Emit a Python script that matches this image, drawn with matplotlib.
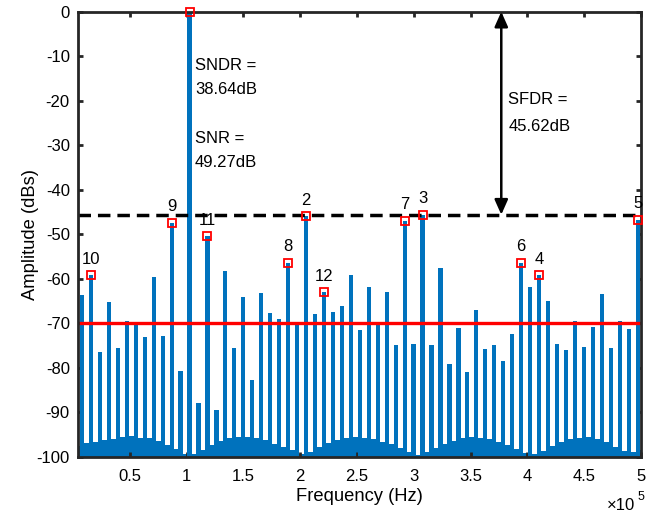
import matplotlib
matplotlib.use("Agg")
import matplotlib.pyplot as plt
import numpy as np

plt.rcParams["font.family"] = ["Liberation Sans", "DejaVu Sans"]
plt.rcParams["axes.unicode_minus"] = False

# FFT bin spacing (Hz) and bins shown in the spectrum
DF = 7890.0
bins = np.arange(1, 64)

# bin amplitudes (dBFS), bins 1..63
amp_db = [
    -63.7, -59.2, -76.5, -65.3, -75.6, -69.4, -70.4, -73.0, -59.7, -72.9,
    -47.4, -80.7, 0.0, -88.0, -50.4, -89.5, -58.2, -75.5, -64.0, -82.8,
    -63.3, -67.6, -69.1, -56.4, -70.4, -46.0, -68.0, -63.1, -67.4, -66.1,
    -59.2, -71.5, -61.9, -70.5, -63.1, -74.9, -47.0, -74.7, -45.62, -74.9,
    -57.5, -79.2, -71.1, -81.0, -67.0, -75.9, -74.9, -78.5, -72.5, -56.4,
    -61.8, -59.2, -64.9, -74.7, -76.0, -69.6, -75.3, -70.8, -63.4, -75.6,
    -69.6, -71.3, -46.7,
]

# noise floor in the half-bins between the tones
floor_db = [
    -97.5, -97.0, -96.6, -96.3, -96.0, -95.6, -95.4, -95.7, -95.9, -96.5,
    -97.4, -98.2, -99.3, -99.5, -98.6, -97.3, -96.4, -95.8, -95.5, -95.6,
    -95.9, -96.3, -97.1, -97.9, -98.6, -99.4, -98.9, -97.9, -96.9, -96.2,
    -95.8, -95.5, -95.7, -96.0, -96.6, -97.2, -98.1, -98.9, -99.6, -99.0,
    -98.0, -97.1, -96.5, -95.9, -95.6, -95.8, -96.1, -96.7, -97.4, -98.3,
    -99.1, -99.4, -98.7, -97.6, -96.7, -96.1, -95.7, -95.6, -96.0, -96.8,
    -97.8, -98.7, -99.0, -98.4,
]

# fundamental + harmonics: label and (folded) bin index
harm_labels = ["", "2", "3", "4", "5", "6", "7", "8", "9", "10", "11", "12"]
harm_bins = [13, 26, 39, 52, 63, 50, 37, 24, 11, 2, 15, 28]

SFDR = 45.62
NOISE_LINE = -70.0
ARROW_F = 377000.0

BLUE = "#0072BD"
AX_COL = "#262626"

freq = bins * DF
amp = np.array(amp_db)
floor_f = (np.arange(len(floor_db)) + 0.5) * DF
floor = np.array(floor_db)

fig = plt.figure(figsize=(6.46, 5.17), dpi=100)
ax = fig.add_axes([77.5 / 646, 1 - 456.7 / 517, (641 - 77.5) / 646, (456.7 - 11.7) / 517])

ax.bar(floor_f, floor + 100, bottom=-100, width=DF, color=BLUE, linewidth=0, zorder=1)
ax.bar(freq, amp + 100, bottom=-100, width=0.47 * DF, color=BLUE, linewidth=0, zorder=2)

ax.axhline(-SFDR, color="black", lw=2.5, ls=(0, (3.6, 2.0)), zorder=4)
ax.axhline(NOISE_LINE, color="red", lw=2.4, zorder=4)

hx = [b * DF for b in harm_bins]
hy = [amp_db[b - 1] for b in harm_bins]
ax.plot(hx, hy, ls="none", marker="s", ms=6, mfc="none", mec="red", mew=1.3,
        zorder=6, clip_on=False)
for lab, x, y in zip(harm_labels, hx, hy):
    if lab:
        ax.annotate(lab, (x, y), xytext=(0, 11.5), textcoords="offset points",
                    ha="center", va="center", fontsize=12, zorder=7)

ax.annotate("", xy=(ARROW_F, 0), xytext=(ARROW_F, -SFDR),
            arrowprops=dict(arrowstyle="<|-|>,head_length=0.9,head_width=0.4",
                            color="black", lw=1.8, shrinkA=0, shrinkB=0),
            annotation_clip=False, zorder=8)

ax.text(107400, -12.0, "SNDR =", fontsize=12, va="center", ha="left")
ax.text(107400, -17.4, "38.64dB", fontsize=12, va="center", ha="left")
ax.text(107400, -28.5, "SNR =", fontsize=12, va="center", ha="left")
ax.text(107400, -33.9, "49.27dB", fontsize=12, va="center", ha="left")
ax.text(383200, -19.8, "SFDR =", fontsize=12, va="center", ha="left")
ax.text(383200, -25.8, "45.62dB", fontsize=12, va="center", ha="left")

ax.set_xlim(DF / 2, 5e5)
ax.set_ylim(-100, 0)
xt = np.arange(0.5, 5.01, 0.5)
ax.set_xticks(xt * 1e5)
ax.set_xticklabels([f"{v:g}" for v in xt])
ax.set_yticks(np.arange(-100, 1, 10))

ax.tick_params(direction="in", length=3.6, width=2, colors=AX_COL, labelsize=12,
               top=True, right=True, labelcolor="black")
ax.tick_params(axis="x", pad=9)
ax.tick_params(axis="y", pad=5.5)
for s in ax.spines.values():
    s.set_linewidth(2)
    s.set_color(AX_COL)
    s.set_zorder(5)

ax.set_xlabel("Frequency (Hz)", fontsize=13.2, labelpad=3)
ax.set_ylabel("Amplitude (dBs)", fontsize=13.2, labelpad=-2)

fig.text(621 / 646, 1 - 506 / 517, "\u00d710", fontsize=12, ha="center", va="center")
fig.text(641 / 646, 1 - 497 / 517, "5", fontsize=9, ha="center", va="center")

fig.savefig("out.png", dpi=100)
